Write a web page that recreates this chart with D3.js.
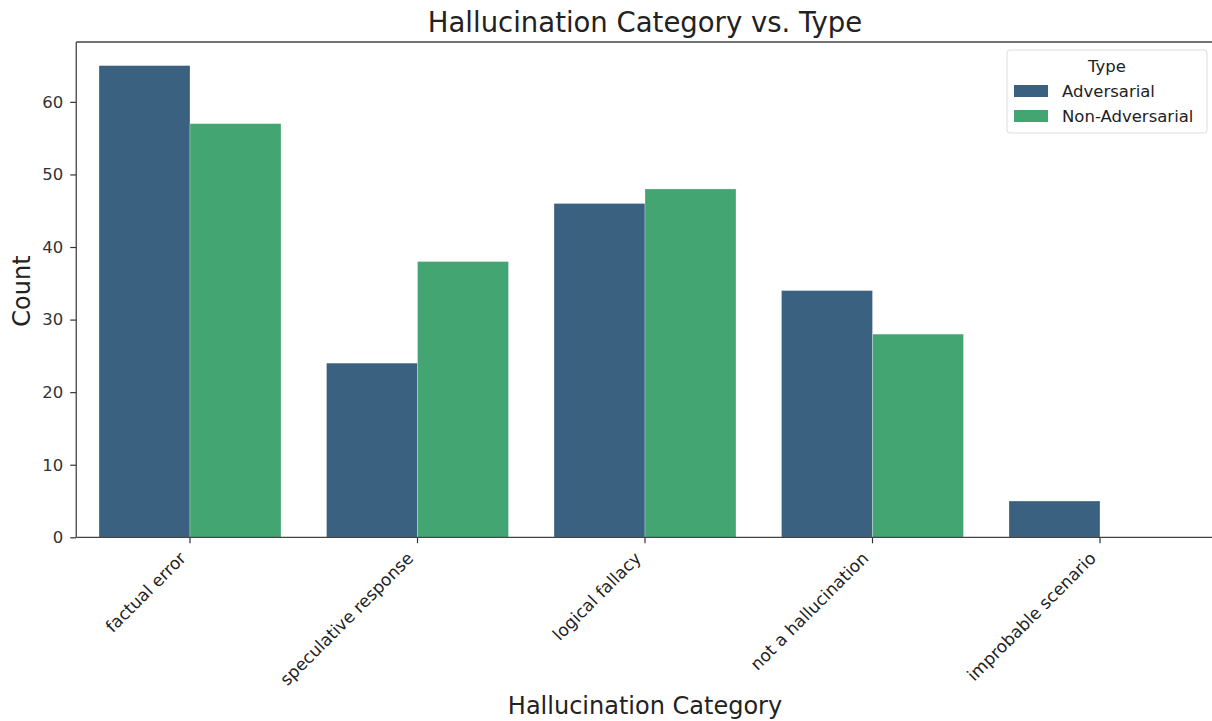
<!DOCTYPE html>
<html><head><meta charset="utf-8">
<script src="https://cdn.jsdelivr.net/npm/d3@7"></script>
<style>body{margin:0;background:#fff;font-family:"DejaVu Sans",sans-serif;}</style>
</head><body>
<svg id="c" width="1212" height="721"></svg>
<script>
const categories = ["factual error","speculative response","logical fallacy","not a hallucination","improbable scenario"];
const seriesNames = ["Adversarial","Non-Adversarial"];
const adversarial = [65, 24, 46, 34, 5];
const nonAdversarial = [57, 38, 48, 28, 0];
const yTicks = [0,10,20,30,40,50,60];
const colors = ["#3b6181","#43a572"];

const svg = d3.select("#c");
const m = {l:76.25, r:-1.75, t:42, b:183.7};
const W = 1212, H = 721;
const x = d3.scaleBand().domain(categories).range([m.l, W - m.r]).paddingInner(0).paddingOuter(0);
const x1 = d3.scaleBand().domain(seriesNames).range([x.bandwidth()*0.1, x.bandwidth()*0.9]);
const y = d3.scaleLinear().domain([0, 68.25]).range([H - m.b, m.t]);

const data = categories.map((c,i)=>({c, vals:[adversarial[i], nonAdversarial[i]]}));
const g = svg.append("g");
data.forEach(d=>{
  d.vals.forEach((v,j)=>{
    if (v<=0) return;
    g.append("rect")
      .attr("x", x(d.c)+x1(seriesNames[j]))
      .attr("y", y(v))
      .attr("width", x1.bandwidth())
      .attr("height", y(0)-y(v))
      .attr("fill", colors[j])
      .attr("stroke","#fff").attr("stroke-opacity",0.35).attr("stroke-width",0.8);
  });
});

// axes
const yAxis = d3.axisLeft(y).tickValues(yTicks).tickSize(6).tickPadding(7);
const ya = svg.append("g").attr("transform",`translate(${m.l},0)`).call(yAxis);
ya.select(".domain").remove();
ya.selectAll("line").attr("stroke","#333").attr("stroke-width",1.2);
ya.selectAll("text").attr("font-family","DejaVu Sans").attr("font-size",16.5).attr("fill","#333");

const xAxis = d3.axisBottom(x).tickSize(6).tickPadding(4);
const xa = svg.append("g").attr("transform",`translate(0,${y(0)})`).call(xAxis);
xa.select(".domain").remove();
xa.selectAll("line").attr("stroke","#333").attr("stroke-width",1.2);
xa.selectAll("text").attr("font-family","DejaVu Sans").attr("font-size",17).attr("fill","#222")
  .attr("text-anchor","end").attr("x",0).attr("y",0).attr("dy","0")
  .attr("transform","translate(-3,22) rotate(-45)");

// spines
svg.append("line").attr("x1",m.l).attr("x2",m.l).attr("y1",m.t).attr("y2",y(0)).attr("stroke","#444").attr("stroke-width",1.3);
svg.append("line").attr("x1",m.l).attr("x2",W).attr("y1",y(0)).attr("y2",y(0)).attr("stroke","#444").attr("stroke-width",1.3);
svg.append("line").attr("x1",m.l).attr("x2",W).attr("y1",m.t).attr("y2",m.t).attr("stroke","#444").attr("stroke-width",1.3);

// title & labels
svg.append("text").attr("x",645).attr("y",32).attr("text-anchor","middle")
  .attr("font-size",27.5).attr("fill","#222").text("Hallucination Category vs. Type");
svg.append("text").attr("x",645).attr("y",714).attr("text-anchor","middle")
  .attr("font-size",24).attr("fill","#222").text("Hallucination Category");
svg.append("text").attr("transform",`translate(30,291) rotate(-90)`).attr("text-anchor","middle")
  .attr("font-size",24).attr("fill","#222").text("Count");

// legend
const lg = svg.append("g");
lg.append("rect").attr("x",1007).attr("y",50).attr("width",200).attr("height",83).attr("rx",3)
  .attr("fill","#fff").attr("fill-opacity",0.8).attr("stroke","#ddd");
lg.append("text").attr("x",1107).attr("y",72).attr("text-anchor","middle").attr("font-size",16.5).attr("fill","#222").text("Type");
seriesNames.forEach((s,i)=>{
  lg.append("rect").attr("x",1014).attr("y",85+i*25).attr("width",34).attr("height",12).attr("fill",colors[i]);
  lg.append("text").attr("x",1062).attr("y",97+i*25).attr("font-size",16.5).attr("fill","#222").text(s);
});
</script>
</body></html>
